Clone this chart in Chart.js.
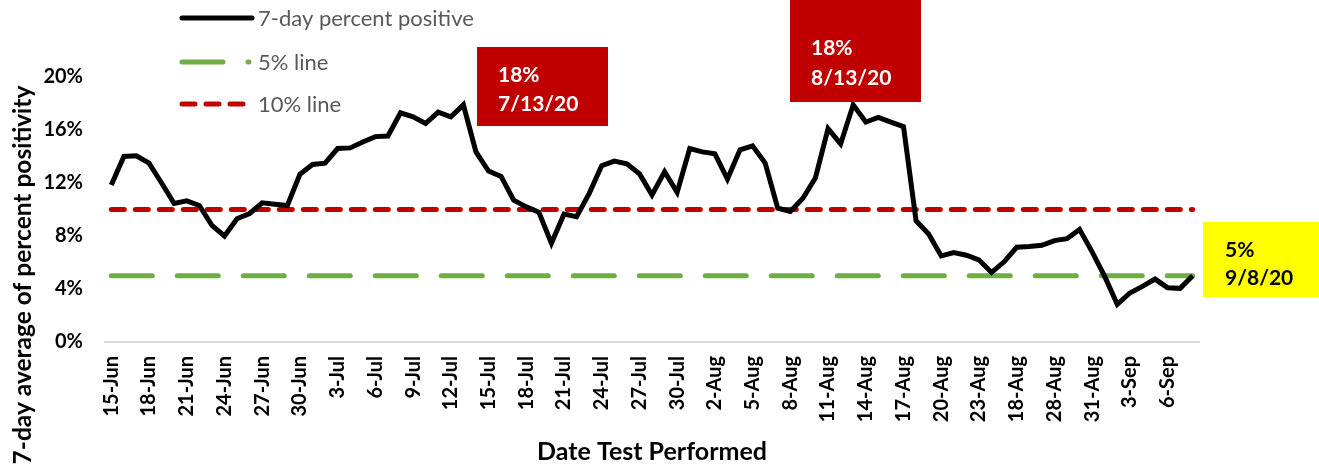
<!DOCTYPE html>
<html>
<head>
<meta charset="utf-8">
<script src="https://cdn.jsdelivr.net/npm/chart.js@4.4.0/dist/chart.umd.min.js"></script>
<style>
  html, body { margin: 0; padding: 0; background: #fff; }
</style>
</head>
<body>
<canvas id="myChart" width="1319" height="470"></canvas>
<script>
// categories (one per day, the source sheet has a typo "18-Aug" where 26-Aug should be)
const dates = [
  '15-Jun','16-Jun','17-Jun','18-Jun','19-Jun','20-Jun','21-Jun','22-Jun','23-Jun','24-Jun','25-Jun','26-Jun','27-Jun','28-Jun','29-Jun','30-Jun',
  '1-Jul','2-Jul','3-Jul','4-Jul','5-Jul','6-Jul','7-Jul','8-Jul','9-Jul','10-Jul','11-Jul','12-Jul','13-Jul','14-Jul','15-Jul','16-Jul',
  '17-Jul','18-Jul','19-Jul','20-Jul','21-Jul','22-Jul','23-Jul','24-Jul','25-Jul','26-Jul','27-Jul','28-Jul','29-Jul','30-Jul','31-Jul',
  '1-Aug','2-Aug','3-Aug','4-Aug','5-Aug','6-Aug','7-Aug','8-Aug','9-Aug','10-Aug','11-Aug','12-Aug','13-Aug','14-Aug','15-Aug','16-Aug',
  '17-Aug','18-Aug','19-Aug','20-Aug','21-Aug','22-Aug','23-Aug','24-Aug','25-Aug','18-Aug','26-Aug','27-Aug','28-Aug','29-Aug','30-Aug','31-Aug',
  '1-Sep','2-Sep','3-Sep','4-Sep','5-Sep','6-Sep','7-Sep','8-Sep'
];

// 7-day percent positive
const positivity = [
  11.85, 14.0, 14.05, 13.5, 12.0, 10.45, 10.65, 10.3, 8.8, 8.0, 9.3, 9.7, 10.5, 10.4, 10.3, 12.65,
  13.4, 13.5, 14.6, 14.65, 15.1, 15.5, 15.55, 17.3, 17.0, 16.5, 17.35, 17.0, 17.9, 14.35, 12.9, 12.5,
  10.7, 10.2, 9.8, 7.45, 9.65, 9.45, 11.2, 13.3, 13.65, 13.45, 12.7, 11.1, 12.85, 11.3, 14.6,
  14.35, 14.2, 12.3, 14.5, 14.8, 13.5, 10.1, 9.85, 10.85, 12.4, 16.1, 14.95, 17.9, 16.6, 16.95, 16.6,
  16.25, 9.15, 8.15, 6.5, 6.75, 6.55, 6.2, 5.25, 6.05, 7.15, 7.2, 7.3, 7.65, 7.8, 8.5, 6.8,
  4.95, 2.85, 3.7, 4.2, 4.75, 4.1, 4.05, 5.0
];

const thresholds = [5, 10];
const seriesNames = ['7-day percent positive', '5% line', '10% line'];
const callouts = [
  ['18%', '7/13/20'],
  ['18%', '8/13/20'],
  ['5%', '9/8/20']
];

const FONT = 'Lato, "Open Sans", sans-serif';

// legend, y title and the three callout boxes
const extras = {
  id: 'extras',
  afterDraw(chart) {
    const c = chart.ctx;
    c.save();

    // legend
    const rows = [18, 62, 104];
    const styles = [
      { color: '#000000', dash: [] },
      { color: '#70AD47', dash: [41, 25] },
      { color: '#C00000', dash: [13, 11] }
    ];
    rows.forEach((y, i) => {
      c.strokeStyle = styles[i].color;
      c.lineWidth = 5;
      c.lineCap = 'round';
      c.setLineDash(styles[i].dash);
      c.beginPath();
      c.moveTo(182, y);
      c.lineTo(i === 1 ? 249 : 252, y);
      c.stroke();
      c.setLineDash([]);
      c.fillStyle = '#595959';
      c.font = '22px ' + FONT;
      c.textAlign = 'left';
      c.textBaseline = 'middle';
      c.fillText(seriesNames[i], 258, y + 1);
    });

    // y axis title
    c.save();
    c.translate(23, 275);
    c.rotate(-Math.PI / 2);
    c.fillStyle = '#000';
    c.font = 'bold 24.5px ' + FONT;
    c.textAlign = 'center';
    c.textBaseline = 'middle';
    c.fillText('7-day average of percent positivity', 0, 0);
    c.restore();

    // callouts
    const boxes = [
      { x: 477, y: 47, w: 131, h: 79, bg: '#C00000', fg: '#ffffff', tx: 498, ty: [75, 104] },
      { x: 790, y: 0, w: 131, h: 102, bg: '#C00000', fg: '#ffffff', tx: 811, ty: [48, 78] },
      { x: 1203, y: 222, w: 116, h: 75, bg: '#FFFF00', fg: '#000000', tx: 1225, ty: [250, 278] }
    ];
    boxes.forEach((b, i) => {
      c.fillStyle = b.bg;
      c.fillRect(b.x, b.y, b.w, b.h);
      c.fillStyle = b.fg;
      c.font = 'bold 21px ' + FONT;
      c.textAlign = 'left';
      c.textBaseline = 'middle';
      callouts[i].forEach((t, j) => c.fillText(t, b.tx, b.ty[j]));
    });

    c.restore();
  }
};

const ctx = document.getElementById('myChart');
const config = {
  type: 'line',
  data: {
    labels: dates,
    datasets: [
      {
        label: seriesNames[0],
        data: positivity,
        borderColor: '#000000',
        borderWidth: 5,
        pointRadius: 0,
        tension: 0,
        order: 0
      },
      {
        label: seriesNames[1],
        data: dates.map(() => thresholds[0]),
        borderColor: '#70AD47',
        borderWidth: 5,
        borderDash: [41, 25],
        borderCapStyle: 'round',
        pointRadius: 0,
        order: 1
      },
      {
        label: seriesNames[2],
        data: dates.map(() => thresholds[1]),
        borderColor: '#C00000',
        borderWidth: 5,
        borderDash: [13, 11],
        borderCapStyle: 'round',
        pointRadius: 0,
        order: 2
      }
    ]
  },
  options: {
    responsive: false,
    animation: false,
    devicePixelRatio: 1,
    layout: { padding: { left: 0, right: 120, top: 77, bottom: 0 } },
    plugins: {
      legend: { display: false },
      tooltip: { enabled: false }
    },
    scales: {
      x: {
        offset: true,
        grid: { display: false, drawTicks: false },
        border: { display: true, color: '#d9d9d9', width: 2 },
        ticks: {
          autoSkip: false,
          minRotation: 90,
          maxRotation: 90,
          padding: 14,
          color: '#000',
          font: { family: FONT, size: 20, weight: 'bold' },
          callback: (v, i) => (i % 3 === 0 ? dates[i] : '')
        },
        title: {
          display: true,
          text: 'Date Test Performed',
          color: '#000',
          font: { family: FONT, size: 25, weight: 'bold' },
          padding: { top: 0, bottom: 3 }
        },
        afterFit: (s) => { s.height = 128; }
      },
      y: {
        min: 0,
        max: 20,
        grid: { display: false, drawTicks: false },
        border: { display: false },
        ticks: {
          stepSize: 4,
          padding: 22,
          color: '#000',
          font: { family: FONT, size: 20, weight: 'bold' },
          callback: (v) => v + '%'
        },
        afterFit: (s) => { s.width = 105; }
      }
    }
  },
  plugins: [extras]
};
const chart = new Chart(ctx, config);
</script>
</body>
</html>
